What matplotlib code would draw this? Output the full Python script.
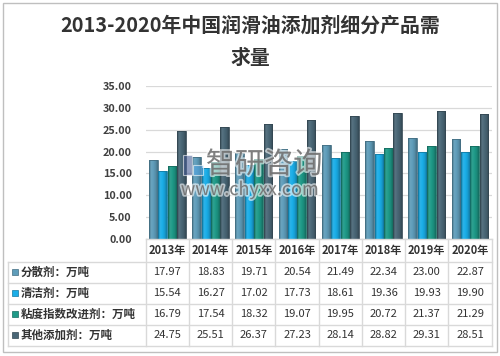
import numpy as np
import matplotlib
matplotlib.use('Agg')
import matplotlib.pyplot as plt
import matplotlib.patheffects as pe
from matplotlib.colors import LinearSegmentedColormap, to_rgb
from matplotlib.patches import Rectangle

plt.rcParams['font.family'] = ['Noto Sans CJK SC', 'DejaVu Sans']

# 数据
years = ['2013年', '2014年', '2015年', '2016年', '2017年', '2018年', '2019年', '2020年']
names = ['分散剂：万吨', '清洁剂：万吨', '粘度指数改进剂：万吨', '其他添加剂：万吨']
fensan = [17.97, 18.83, 19.71, 20.54, 21.49, 22.34, 23.00, 22.87]
qingjie = [15.54, 16.27, 17.02, 17.73, 18.61, 19.36, 19.93, 19.90]
niandu = [16.79, 17.54, 18.32, 19.07, 19.95, 20.72, 21.37, 21.29]
qita = [24.75, 25.51, 26.37, 27.23, 28.14, 28.82, 29.31, 28.51]
series = [fensan, qingjie, niandu, qita]
yticks = [0, 5, 10, 15, 20, 25, 30, 35]

colors = ['#5F9DBA', '#1AAEE8', '#1E9A88', '#4A6777']
W, H = 500, 356


def shade(c, f):
    r = np.array(to_rgb(c))
    if f >= 1:
        return tuple(r + (1 - r) * (f - 1))
    return tuple(r * f)


fig = plt.figure(figsize=(W / 100, H / 100), dpi=100)
fig.patch.set_facecolor('white')

# 外框
fig.add_artist(Rectangle((3 / W, 4 / H), 494 / W, 349 / H, transform=fig.transFigure,
                         fill=False, edgecolor='#BFBFBF', lw=1))

ax_left, ax_right = 145.7, 491.7
ax_top, ax_bot = 86, 239
ax = fig.add_axes([ax_left / W, 1 - ax_bot / H, (ax_right - ax_left) / W, (ax_bot - ax_top) / H])

n = len(years)
x = np.arange(n)
bw = 0.2
step = 0.217
for k, vals in enumerate(series):
    c = colors[k]
    cmap = LinearSegmentedColormap.from_list('g%d' % k, [shade(c, 0.72), shade(c, 1.08), c, shade(c, 0.9), shade(c, 0.7)])
    grad = np.linspace(0, 1, 64).reshape(1, -1)
    bars = ax.bar(x + (k - 1.5) * step, vals, width=bw, color=c, edgecolor=shade(c, 0.7), lw=0.6, zorder=3)
    for b in bars:
        x0, w, h = b.get_x(), b.get_width(), b.get_height()
        im = ax.imshow(grad, extent=[x0, x0 + w, 0, h], aspect='auto', cmap=cmap, zorder=3.5)
        im.set_clip_path(b)
        b.set_facecolor('none')
        b.set_zorder(4)
ax.set_xlim(-0.5, n - 0.5)
ax.set_ylim(0, 35)

ax.set_yticks(yticks)
ax.set_yticklabels(['%.2f' % v for v in yticks], fontsize=7.8, color='#404040', fontweight='bold')
ax.set_xticks([])
ax.grid(axis='y', color='#D9D9D9', lw=0.9, zorder=0)
for s in ['top', 'right', 'left', 'bottom']:
    ax.spines[s].set_visible(False)
ax.tick_params(axis='y', length=0, pad=10)

# 标题
fig.text(0.5, 1 - 25 / H, '2013-2020年中国润滑油添加剂细分产品需', ha='center', va='center',
         fontsize=14.3, fontweight='bold', color='#333333')
fig.text(0.5, 1 - 57 / H, '求量', ha='center', va='center',
         fontsize=14.3, fontweight='bold', color='#333333')

# 数据表
line_c = '#D9D9D9'
col_w = (ax_right - ax_left) / n
row_y = [239, 262, 282.5, 303.5, 324.5, 345.5]


def hline(y, x0, x1):
    fig.add_artist(plt.Line2D([x0 / W, x1 / W], [1 - y / H, 1 - y / H], color=line_c, lw=1))


def vline(xp, y0, y1):
    fig.add_artist(plt.Line2D([xp / W, xp / W], [1 - y0 / H, 1 - y1 / H], color=line_c, lw=1))


for y in row_y[1:]:
    hline(y, 8, ax_right)
hline(row_y[0], ax_left, ax_right)
vline(8, row_y[1], row_y[-1])
for i in range(n + 1):
    vline(ax_left + i * col_w, row_y[0], row_y[-1])

for i, yr in enumerate(years):
    cx = ax_left + (i + 0.5) * col_w
    fig.text(cx / W, 1 - (row_y[0] + row_y[1]) / 2 / H, yr, ha='center', va='center',
             fontsize=8, color='#333333', fontweight='bold')
for r, vals in enumerate(series):
    cy = (row_y[r + 1] + row_y[r + 2]) / 2
    fig.add_artist(Rectangle((12 / W, 1 - (cy + 3) / H), 6 / W, 6 / H, transform=fig.transFigure,
                             facecolor=colors[r], edgecolor=shade(colors[r], 0.7), lw=0.5))
    fig.text(21 / W, 1 - cy / H, names[r], ha='left', va='center', fontsize=8.3,
             color='#333333', fontweight='bold')
    for i, v in enumerate(vals):
        cx = ax_left + (i + 0.5) * col_w
        fig.text(cx / W, 1 - cy / H, '%.2f' % v, ha='center', va='center',
                 fontsize=8, color='#333333')

# 水印
halo = [pe.withStroke(linewidth=2.5, foreground='white', alpha=0.6)]
fig.add_artist(Rectangle((183 / W, 1 - 175 / H), 9 / W, 20 / H, transform=fig.transFigure,
                         facecolor='#4A5F96', edgecolor='white', lw=0.8, alpha=0.6, zorder=10))
fig.add_artist(Rectangle((193 / W, 1 - 175 / H), 10 / W, 10 / H, transform=fig.transFigure,
                         facecolor='#4FA3E0', edgecolor='white', lw=0.8, alpha=0.6, zorder=10))
fig.text(264 / W, 1 - 165 / H, '智研咨询', ha='center', va='center', fontsize=21,
         color='#5A5A5A', alpha=0.7, zorder=10, path_effects=halo)
fig.text(250 / W, 1 - 190 / H, 'www.chyxx.com', ha='center', va='center', fontsize=13,
         color='#5A5A5A', alpha=0.7, zorder=10, path_effects=halo)

fig.savefig('out.png', dpi=100)
